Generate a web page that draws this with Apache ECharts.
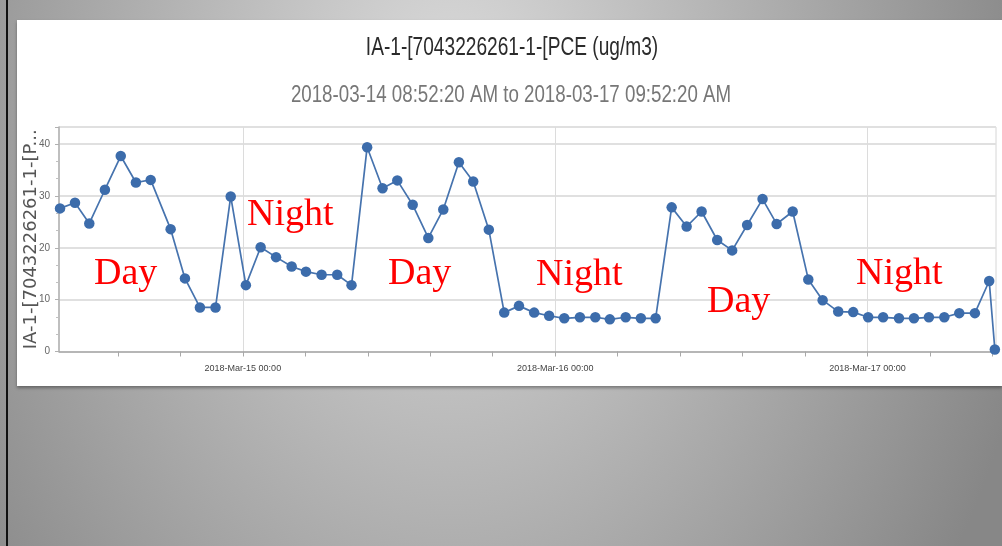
<!DOCTYPE html>
<html>
<head>
<meta charset="utf-8">
<title>IA-1 PCE</title>
<script src="https://cdn.jsdelivr.net/npm/echarts@6/dist/echarts.min.js"></script>
<style>
  html, body {
    margin: 0;
    padding: 0;
    width: 1002px;
    height: 546px;
    overflow: hidden;
  }
  body {
    position: relative;
    background: radial-gradient(ellipse 601px 819px at 450px 110px, #dcdcdc 0%, #adadad 55%, #878787 100%);
  }
  #edge {
    position: absolute;
    left: 6px;
    top: 0;
    width: 2px;
    height: 546px;
    background: #111;
  }
  #panel {
    position: absolute;
    left: 17px;
    top: 20px;
    width: 985px;
    height: 366px;
    background: #fff;
    box-shadow: 0 2px 3px rgba(0, 0, 0, 0.35);
  }
  #main {
    position: absolute;
    left: 0;
    top: 0;
    width: 1002px;
    height: 546px;
  }
</style>
</head>
<body>
<div id="edge"></div>
<div id="panel"></div>
<div id="main"></div>
<script>
// sample times and PCE values in ug/m3
var times = [
  '2018-03-14 09:57', '2018-03-14 11:06', '2018-03-14 12:12', '2018-03-14 13:24',
  '2018-03-14 14:37', '2018-03-14 15:47', '2018-03-14 16:55', '2018-03-14 18:27',
  '2018-03-14 19:33', '2018-03-14 20:42', '2018-03-14 21:54', '2018-03-14 23:04',
  '2018-03-15 00:14', '2018-03-15 01:22', '2018-03-15 02:33', '2018-03-15 03:45',
  '2018-03-15 04:51', '2018-03-15 06:03', '2018-03-15 07:15', '2018-03-15 08:21',
  '2018-03-15 09:33', '2018-03-15 10:44', '2018-03-15 11:52', '2018-03-15 13:03',
  '2018-03-15 14:15', '2018-03-15 15:24', '2018-03-15 16:36', '2018-03-15 17:42',
  '2018-03-15 18:54', '2018-03-15 20:05', '2018-03-15 21:13', '2018-03-15 22:23',
  '2018-03-15 23:32', '2018-03-16 00:42', '2018-03-16 01:54', '2018-03-16 03:05',
  '2018-03-16 04:12', '2018-03-16 05:25', '2018-03-16 06:35', '2018-03-16 07:43',
  '2018-03-16 08:57', '2018-03-16 10:06', '2018-03-16 11:15', '2018-03-16 12:27',
  '2018-03-16 13:36', '2018-03-16 14:45', '2018-03-16 15:56', '2018-03-16 17:01',
  '2018-03-16 18:15', '2018-03-16 19:27', '2018-03-16 20:33', '2018-03-16 21:45',
  '2018-03-16 22:54', '2018-03-17 00:03', '2018-03-17 01:12', '2018-03-17 02:25',
  '2018-03-17 03:34', '2018-03-17 04:43', '2018-03-17 05:54', '2018-03-17 07:03',
  '2018-03-17 08:15', '2018-03-17 09:21', '2018-03-17 09:47'
]
var values = [
  27.6, 28.7, 24.7, 31.2, 37.7, 32.6, 33.1, 23.6, 14.1, 8.5, 8.5, 29.9,
  12.8, 20.1, 18.2, 16.4, 15.4, 14.8, 14.8, 12.8, 39.4, 31.5, 33.0, 28.3,
  21.9, 27.4, 36.5, 32.8, 23.5, 7.5, 8.8, 7.5, 6.9,
  6.4, 6.6, 6.6, 6.2, 6.6, 6.4, 6.4, 27.8, 24.1, 27.0, 21.5, 19.5, 24.4,
  29.4, 24.6, 27.0, 13.9, 9.9, 7.7, 7.6,
  6.6, 6.6, 6.4, 6.4, 6.6, 6.6, 7.4, 7.4, 13.6, 0.4
]
var rangeStart = '2018-03-14 09:52:20'
var rangeEnd = '2018-03-17 09:52:20'
// small ticks every 4.8 h, labels only at midnight
var tickTimes = [
  '2018-03-14 14:24', '2018-03-14 19:12', '2018-03-15 00:00', '2018-03-15 04:48',
  '2018-03-15 09:36', '2018-03-15 14:24', '2018-03-15 19:12', '2018-03-16 00:00',
  '2018-03-16 04:48', '2018-03-16 09:36', '2018-03-16 14:24', '2018-03-16 19:12',
  '2018-03-17 00:00', '2018-03-17 04:48', '2018-03-17 09:36'
]
var labelTimes = ['2018-03-15 00:00', '2018-03-16 00:00', '2018-03-17 00:00']
var yTicks = [0, 10, 20, 30, 40]
var chartTitle = 'IA-1-[7043226261-1-[PCE (ug/m3)'
var chartSubtitle = '2018-03-14 08:52:20 AM to 2018-03-17 09:52:20 AM'
var yName = 'IA-1-[7043226261-1-[P...'

var months = ['Jan', 'Feb', 'Mar', 'Apr', 'May', 'Jun', 'Jul', 'Aug', 'Sep', 'Oct', 'Nov', 'Dec']
function pad(n) {
  return n < 10 ? '0' + n : '' + n
}
// local time in ms, so the x axis can be a plain value axis
function toMs(s) {
  var p = s.split(/[- :]/)
  return new Date(+p[0], +p[1] - 1, +p[2], +p[3], +p[4], +(p[5] || 0)).getTime()
}
function fmtDay(v) {
  var d = new Date(v)
  return d.getFullYear() + '-' + months[d.getMonth()] + '-' + pad(d.getDate()) + ' ' +
    pad(d.getHours()) + ':' + pad(d.getMinutes())
}

var sans = '"Liberation Sans", Arial, sans-serif'
var serif = '"Liberation Serif", "DejaVu Serif", serif'

var seriesData = times.map(function(t, i) {
  return [toMs(t), values[i]]
})
var tickMs = tickTimes.map(toMs)
var labelMs = labelTimes.map(toMs)

// red day / night notes laid over the plot
function note(text, x, y) {
  return {
    type: 'text',
    x: x,
    y: y,
    z: 100,
    style: {
      text: text,
      fill: '#ff0000',
      font: '38px ' + serif,
      verticalAlign: 'middle'
    }
  }
}
// the screenshot's heading text is squeezed sideways, so scale it
function heading(text, x, y, size, color, sx) {
  return {
    type: 'text',
    x: x,
    y: y,
    scaleX: sx,
    z: 100,
    style: {
      text: text,
      fill: color,
      font: size + 'px ' + sans,
      align: 'center',
      verticalAlign: 'middle'
    }
  }
}

var chart = echarts.init(document.getElementById('main'), null, { renderer: 'canvas' })
var option = {
  animation: false,
  grid: {
    left: 59,
    top: 127,
    width: 937,
    height: 224.5,
    show: true,
    borderColor: '#d6d6d6',
    borderWidth: 1
  },
  xAxis: [{
    type: 'value',
    min: toMs(rangeStart),
    max: toMs(rangeEnd),
    axisLine: { show: true, lineStyle: { color: '#a8a8a8', width: 1.5 } },
    axisTick: { show: true, length: 5, customValues: tickMs, lineStyle: { color: '#a8a8a8' } },
    axisLabel: {
      customValues: labelMs,
      formatter: fmtDay,
      margin: 13,
      fontFamily: sans,
      fontSize: 9,
      color: '#444'
    },
    splitLine: { show: false }
  }, {
    type: 'value',
    min: toMs(rangeStart),
    max: toMs(rangeEnd),
    position: 'bottom',
    axisLine: { show: false },
    axisTick: { show: false, customValues: labelMs },
    axisLabel: { show: false, customValues: labelMs },
    splitLine: { show: true, lineStyle: { color: '#dcdcdc', width: 1 } }
  }],
  yAxis: {
    type: 'value',
    min: 0,
    max: 43.3,
    interval: 10,
    name: yName,
    nameLocation: 'middle',
    nameGap: 19,
    nameMoveOverlap: false,
    nameTextStyle: {
      fontFamily: '"DejaVu Sans", Verdana, sans-serif',
      fontSize: 18,
      color: '#555'
    },
    axisLine: { show: true, lineStyle: { color: '#b0b0b0', width: 1.5 } },
    axisTick: { show: true, length: 4, lineStyle: { color: '#b0b0b0' } },
    minorTick: { show: true, splitNumber: 3, length: 3, lineStyle: { color: '#c0c0c0' } },
    axisLabel: {
      showMaxLabel: false,
      margin: 9,
      fontFamily: sans,
      fontSize: 10,
      color: '#666',
      formatter: function(v) {
        return yTicks.indexOf(v) >= 0 ? '' + v : ''
      }
    },
    splitLine: { show: true, lineStyle: { color: '#e0e0e0', width: 2 } }
  },
  series: [{
    name: 'PCE',
    type: 'line',
    xAxisIndex: 0,
    data: seriesData,
    symbol: 'circle',
    symbolSize: 10.5,
    showAllSymbol: true,
    clip: false,
    itemStyle: { color: '#3c6cab' },
    lineStyle: { color: '#4673ae', width: 1.7 },
    z: 5
  }],
  graphic: [
    heading(chartTitle, 512, 48, 25, '#2b2b2b', 0.765),
    heading(chartSubtitle, 511, 95, 24, '#777777', 0.78),
    note('Day', 94, 274.5),
    note('Night', 247, 215.5),
    note('Day', 388, 274.5),
    note('Night', 536, 275),
    note('Day', 707, 302),
    note('Night', 856, 274.5)
  ]
}
chart.setOption(option)
</script>
</body>
</html>
